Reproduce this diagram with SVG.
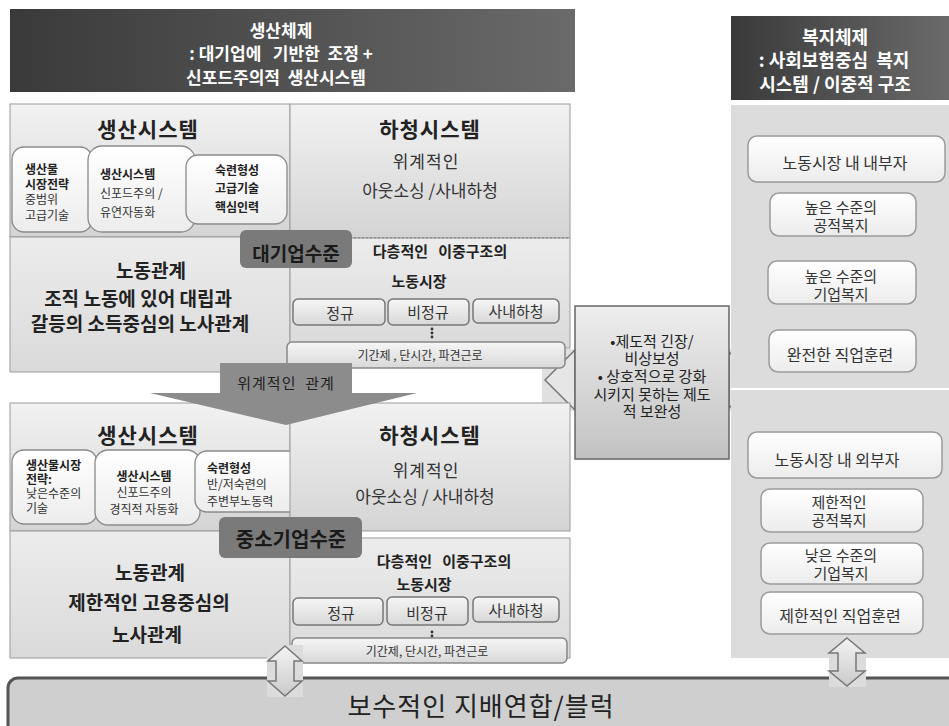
<svg xmlns="http://www.w3.org/2000/svg" width="949" height="726" viewBox="0 0 949 726">
<defs>
<linearGradient id="hdr" x1="0" y1="0" x2="1" y2="0"><stop offset="0" stop-color="#3a3a3a"/><stop offset="1" stop-color="#6a6a6a"/></linearGradient>
<linearGradient id="pan" x1="0" y1="0" x2="0" y2="1"><stop offset="0" stop-color="#f2f2f2"/><stop offset="1" stop-color="#d4d4d4"/></linearGradient>
<linearGradient id="pan2" x1="0" y1="0" x2="0" y2="1"><stop offset="0" stop-color="#ececec"/><stop offset="1" stop-color="#dadada"/></linearGradient>
<linearGradient id="pill" x1="0" y1="0" x2="0" y2="1"><stop offset="0" stop-color="#ffffff"/><stop offset="1" stop-color="#ececec"/></linearGradient>
<linearGradient id="btn" x1="0" y1="0" x2="0" y2="1"><stop offset="0" stop-color="#f6f6f6"/><stop offset="1" stop-color="#d8d8d8"/></linearGradient>
<linearGradient id="mid" x1="0" y1="0" x2="0" y2="1"><stop offset="0" stop-color="#eeeeee"/><stop offset="1" stop-color="#c2c2c2"/></linearGradient>
<linearGradient id="dbl" x1="0" y1="0" x2="0" y2="1"><stop offset="0" stop-color="#f4f4f4"/><stop offset="1" stop-color="#cacaca"/></linearGradient>
<style>
text{font-family:"Noto Sans CJK KR","Noto Sans",sans-serif;fill:#222}
.h{fill:#fff;font-weight:bold;font-size:17px;text-anchor:middle}
.t{font-weight:bold;font-size:21px;text-anchor:middle;letter-spacing:1px}
.s{font-size:17px;text-anchor:middle;fill:#333}
.lb{font-weight:bold;font-size:19px;text-anchor:middle}
.p{font-size:12px;fill:#333}
.pb{font-size:12px;font-weight:bold;fill:#222}
.m{font-weight:bold;font-size:15px;text-anchor:middle}
.b{font-size:15px;text-anchor:middle;fill:#333}
.sm{font-size:12px;text-anchor:middle;fill:#333}
.r{font-size:16px;text-anchor:middle;fill:#333}
.r2{font-size:15px;text-anchor:middle;fill:#333}
.c{font-size:15px;text-anchor:middle;fill:#222}
.lvl{font-weight:bold;font-size:19px;text-anchor:middle;fill:#1a1a1a}
.pane{stroke:#9a9a9a;stroke-width:1}
.pl{fill:url(#pill);stroke:#8a8a8a;stroke-width:1.3}
.bt{fill:url(#btn);stroke:#777;stroke-width:1.5}
.rb{fill:url(#pill);stroke:#9a9a9a;stroke-width:1.5}
.lv{fill:#7a7a7a}
.da{fill:url(#dbl);stroke:#777;stroke-width:1.5}
</style>
</defs>

<!-- headers -->
<g id="header-production">
<rect x="10" y="9" width="565" height="83" fill="url(#hdr)"/>
<text class="h" x="281" y="37">생산체제</text>
<text class="h" x="281" y="60" xml:space="preserve">: 대기업에   기반한  조정 +</text>
<text class="h" x="276" y="84" xml:space="preserve">신포드주의적  생산시스템</text>
</g>
<g id="header-welfare">
<rect x="731" y="16" width="218" height="84" fill="url(#hdr)"/>
<text class="h" x="835" y="44" style="font-size:18px">복지체제</text>
<text class="h" x="834" y="67" style="font-size:18px" xml:space="preserve">: 사회보험중심  복지</text>
<text class="h" x="835" y="91" style="font-size:18px">시스템 / 이중적 구조</text>
</g>

<!-- middle connector (behind the panels' edges) -->
<g id="tension">
<rect x="542" y="349" width="34" height="62" fill="#e0e0e0"/>
<rect x="728" y="349" width="30" height="62" fill="#e0e0e0"/>
<polygon points="575,350 545,380 575,410" fill="#e6e6e6" stroke="#777" stroke-width="1.5"/>
<polygon points="729,352 757,380 729,408" fill="#e6e6e6" stroke="#777" stroke-width="1.5"/>
<rect x="575" y="306" width="154" height="153" fill="url(#mid)" stroke="#666" stroke-width="1.5"/>
<text class="c" x="652" y="347">•제도적 긴장/</text>
<text class="c" x="652" y="364">비상보성</text>
<text class="c" x="652" y="382">• 상호적으로 강화</text>
<text class="c" x="652" y="400">시키지 못하는 제도</text>
<text class="c" x="652" y="417">적 보완성</text>
</g>

<!-- large firm panel -->
<g id="large-production">
<rect class="pane" x="10" y="104" width="280" height="133" fill="url(#pan)"/>
<text class="t" x="148" y="137">생산시스템</text>
<rect class="pl" x="12" y="147" width="80" height="85" rx="12"/>
<text class="pb" x="25" y="174">생산물</text>
<text class="pb" x="25" y="189">시장전략</text>
<text class="p" x="25" y="204">중범위</text>
<text class="p" x="25" y="220">고급기술</text>
<rect class="pl" x="88" y="146" width="107" height="86" rx="14"/>
<text class="pb" x="100" y="179">생산시스템</text>
<text class="p" x="100" y="198">신포드주의 /</text>
<text class="p" x="100" y="217">유연자동화</text>
<rect class="pl" x="186" y="155" width="101" height="69" rx="12"/>
<text class="pb" x="237" y="175" text-anchor="middle">숙련형성</text>
<text class="pb" x="237" y="193" text-anchor="middle">고급기술</text>
<text class="pb" x="237" y="212" text-anchor="middle">핵심인력</text>
</g>
<g id="large-subcontract">
<rect class="pane" x="290" y="104" width="280" height="134" fill="url(#pan)"/>
<text class="t" x="430" y="137">하청시스템</text>
<text class="s" x="426" y="168" style="letter-spacing:1px">위계적인</text>
<text class="s" x="430" y="197">아웃소싱 /사내하청</text>
</g>
<g id="large-labour">
<rect class="pane" x="10" y="237" width="280" height="135" fill="url(#pan2)"/>
<text class="lb" x="151" y="278">노동관계</text>
<text class="lb" x="138" y="306">조직 노동에 있어 대립과</text>
<text class="lb" x="140" y="331">갈등의 소득중심의 노사관계</text>
</g>
<g id="large-market">
<rect class="pane" x="290" y="238" width="280" height="110" fill="url(#pan2)"/>
<line x1="290" y1="238" x2="570" y2="238" stroke="#888" stroke-dasharray="2 2"/>
<text class="m" x="440" y="257" xml:space="preserve">다층적인   이중구조의</text>
<text class="m" x="419" y="287">노동시장</text>
<rect class="bt" x="293" y="299" width="92" height="26" rx="5"/>
<text class="b" x="340" y="319">정규</text>
<rect class="bt" x="388" y="299" width="81" height="26" rx="5"/>
<text class="b" x="428" y="318">비정규</text>
<rect class="bt" x="473" y="299" width="86" height="24" rx="5"/>
<text class="b" x="516" y="317">사내하청</text>
<circle cx="432" cy="329" r="1.4" fill="#333"/><circle cx="432" cy="333" r="1.4" fill="#333"/><circle cx="432" cy="337" r="1.4" fill="#333"/>
<rect class="bt" x="287" y="342" width="278" height="26" rx="5" style="stroke:#888"/>
<text class="sm" x="420" y="360">기간제 , 단시간, 파견근로</text>
</g>
<g id="large-level">
<rect class="lv" x="240" y="230" width="112" height="38" rx="6"/>
<text class="lvl" x="296" y="261">대기업수준</text>
</g>

<!-- small firm panel -->
<g id="small-production">
<rect class="pane" x="10" y="403" width="280" height="128" fill="url(#pan)"/>
<text class="t" x="148" y="443">생산시스템</text>
<rect class="pl" x="12" y="450" width="85" height="74" rx="12"/>
<text class="pb" x="26" y="470">생산물시장</text>
<text class="pb" x="26" y="484">전략:</text>
<text class="p" x="26" y="498">낮은수준의</text>
<text class="p" x="26" y="513">기술</text>
<rect class="pl" x="95" y="450" width="105" height="75" rx="13"/>
<text class="pb" x="144" y="481" text-anchor="middle">생산시스템</text>
<text class="p" x="144" y="497" text-anchor="middle">신포드주의</text>
<text class="p" x="144" y="514" text-anchor="middle">경직적 자동화</text>
<rect class="pl" x="195" y="451" width="118" height="61" rx="12"/>
<text class="pb" x="207" y="473">숙련형성</text>
<text class="p" x="207" y="489">반/저숙련의</text>
<text class="p" x="207" y="506">주변부노동력</text>
</g>
<g id="small-subcontract">
<rect class="pane" x="290" y="403" width="280" height="128" fill="url(#pan)"/>
<text class="t" x="430" y="443">하청시스템</text>
<text class="s" x="426" y="477" style="letter-spacing:1px">위계적인</text>
<text class="s" x="425" y="503">아웃소싱 / 사내하청</text>
</g>
<g id="small-labour">
<rect class="pane" x="10" y="531" width="280" height="127" fill="url(#pan2)"/>
<text class="lb" x="150" y="580">노동관계</text>
<text class="lb" x="149" y="610">제한적인 고용중심의</text>
<text class="lb" x="147" y="642">노사관계</text>
</g>
<g id="small-market">
<rect class="pane" x="290" y="538" width="280" height="120" fill="url(#pan2)"/>
<text class="m" x="444" y="567" xml:space="preserve">다층적인   이중구조의</text>
<text class="m" x="424" y="590">노동시장</text>
<rect class="bt" x="293" y="598" width="90" height="27" rx="5"/>
<text class="b" x="341" y="619">정규</text>
<rect class="bt" x="387" y="597" width="81" height="28" rx="5"/>
<text class="b" x="427" y="619">비정규</text>
<rect class="bt" x="473" y="597" width="86" height="25" rx="5"/>
<text class="b" x="516" y="616">사내하청</text>
<circle cx="432" cy="632" r="1.4" fill="#333"/><circle cx="432" cy="636" r="1.4" fill="#333"/>
<rect class="bt" x="292" y="638" width="275" height="25" rx="5" style="stroke:#888"/>
<text class="sm" x="427" y="656">기간제,  단시간,  파견근로</text>
</g>
<g id="small-level">
<rect class="lv" x="219" y="517" width="143" height="41" rx="6"/>
<text class="lvl" x="291" y="547" style="font-size:20px">중소기업수준</text>
</g>

<!-- welfare panel -->
<g id="welfare-panel">
<rect x="731" y="105" width="218" height="553" fill="#dcdcdc"/>
<line x1="731" y1="389" x2="949" y2="389" stroke="#fff" stroke-width="2"/>
</g>
<g id="insider">
<rect class="rb" x="748" y="136" width="197" height="46" rx="9"/>
<text class="r" x="845" y="169">노동시장 내 내부자</text>
</g>
<g id="high-public">
<rect class="rb" x="770" y="193" width="146" height="43" rx="9"/>
<text class="r2" x="841" y="213">높은 수준의</text>
<text class="r2" x="841" y="231">공적복지</text>
</g>
<g id="high-corporate">
<rect class="rb" x="768" y="261" width="148" height="43" rx="9"/>
<text class="r2" x="841" y="282">높은 수준의</text>
<text class="r2" x="841" y="300">기업복지</text>
</g>
<g id="full-training">
<rect class="rb" x="769" y="330" width="147" height="42" rx="9"/>
<text class="r" x="840" y="361">완전한 직업훈련</text>
</g>
<g id="outsider">
<rect class="rb" x="748" y="432" width="194" height="46" rx="9"/>
<text class="r" x="837" y="466">노동시장 내 외부자</text>
</g>
<g id="limited-public">
<rect class="rb" x="761" y="489" width="162" height="43" rx="9"/>
<text class="r2" x="839" y="508">제한적인</text>
<text class="r2" x="839" y="526">공적복지</text>
</g>
<g id="low-corporate">
<rect class="rb" x="761" y="543" width="162" height="41" rx="9"/>
<text class="r2" x="841" y="561">낮은 수준의</text>
<text class="r2" x="841" y="579">기업복지</text>
</g>
<g id="limited-training">
<rect class="rb" x="761" y="592" width="162" height="42" rx="9"/>
<text class="r" x="840" y="622">제한적인 직업훈련</text>
</g>

<!-- bottom bar -->
<g id="conservative-bloc">
<rect x="8" y="678" width="960" height="60" rx="10" fill="#cfcfcf" stroke="#555" stroke-width="3"/>
<text x="481" y="716" text-anchor="middle" style="font-size:26px;letter-spacing:1px;fill:#222">보수적인 지배연합/블럭</text>
</g>

<!-- connectors -->
<g id="connectors">
<polygon points="220,363 352,363 352,393 417,393 286,425 150,393 220,393" fill="#8c8c8c"/>
<text x="286" y="389" text-anchor="middle" style="font-size:15px;fill:#222;letter-spacing:1px" xml:space="preserve">위계적인  관계</text>
<rect x="267" y="645" width="36" height="52" fill="#dcdcdc"/>
<polygon class="da" points="285,646 302,661 294,661 294,681 302,681 285,696 268,681 276,681 276,661 268,661"/>
<rect x="829" y="637" width="37" height="50" fill="#dcdcdc"/>
<polygon class="da" points="847,638 865,653 856,653 856,671 865,671 847,686 829,671 838,671 838,653 829,653"/>
</g>
</svg>
